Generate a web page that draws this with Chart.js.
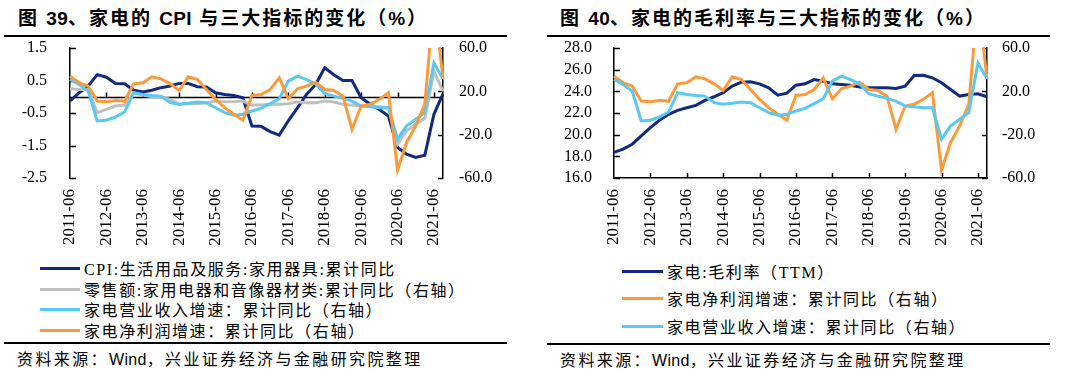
<!DOCTYPE html>
<html>
<head>
<meta charset="utf-8">
<script src="https://cdn.jsdelivr.net/npm/chart.js@4/dist/chart.umd.min.js"></script>
<style>
  body{margin:0;width:1068px;height:380px;background:#fff;position:relative;overflow:hidden;}
  canvas{position:absolute;top:0;}
  .title{position:absolute;top:6px;height:26px;line-height:26px;font-family:"Liberation Sans","Noto Sans CJK SC",sans-serif;font-weight:bold;font-size:19px;letter-spacing:2px;color:#000;white-space:nowrap;}
  .rule{position:absolute;height:2px;background:#000;}
  .row{position:absolute;height:20px;display:flex;align-items:center;white-space:nowrap;font-family:"Liberation Serif","Noto Sans CJK SC",serif;font-size:16px;letter-spacing:1.6px;color:#000;}
  .sw{display:inline-block;height:3px;margin-right:4px;}
  .src{position:absolute;height:20px;line-height:20px;font-family:"Liberation Sans","Noto Sans CJK SC",sans-serif;font-size:16px;letter-spacing:2.4px;color:#000;white-space:nowrap;}
  .lat{letter-spacing:0.3px;}
</style>
</head>
<body>
<div class="title" style="left:18px;">图 <span class="lat">39</span>、家电的 <span class="lat">CPI</span> 与三大指标的变化（%）</div>
<div class="rule" style="left:4px;width:503px;top:35px;"></div>
<div class="title" style="left:560px;">图 <span class="lat">40</span>、家电的毛利率与三大指标的变化（%）</div>
<div class="rule" style="left:547px;width:503px;top:35px;"></div>

<canvas id="c1" width="534" height="255" style="left:0;width:534px;height:255px;"></canvas>
<canvas id="c2" width="534" height="255" style="left:534px;width:534px;height:255px;"></canvas>

<div class="row" style="left:40px;top:258px;"><span class="sw" style="width:40px;background:#0f2a80"></span><span>CPI:生活用品及服务:家用器具:累计同比</span></div>
<div class="row" style="left:40px;top:279px;"><span class="sw" style="width:40px;background:#bfbfbf"></span><span>零售额:家用电器和音像器材类:累计同比（右轴）</span></div>
<div class="row" style="left:40px;top:299px;"><span class="sw" style="width:40px;background:#5bc8f2"></span><span>家电营业收入增速：累计同比（右轴）</span></div>
<div class="row" style="left:40px;top:320px;"><span class="sw" style="width:40px;background:#fb9a3a"></span><span>家电净利润增速：累计同比（右轴）</span></div>
<div class="rule" style="left:4px;width:503px;top:342px;"></div>
<div class="src" style="left:17px;top:350px;">资料来源：<span class="lat">Wind</span>，兴业证券经济与金融研究院整理</div>

<div class="row" style="left:622px;top:261px;"><span class="sw" style="width:41px;background:#0f2a80"></span><span>家电:毛利率（TTM）</span></div>
<div class="row" style="left:622px;top:288px;"><span class="sw" style="width:41px;background:#fb9a3a"></span><span>家电净利润增速：累计同比（右轴）</span></div>
<div class="row" style="left:622px;top:316px;"><span class="sw" style="width:41px;background:#5bc8f2"></span><span>家电营业收入增速：累计同比（右轴）</span></div>
<div class="rule" style="left:547px;width:503px;top:343px;"></div>
<div class="src" style="left:560px;top:351px;">资料来源：<span class="lat">Wind</span>，兴业证券经济与金融研究院整理</div>

<script>
// ---- data ----
const categories = [
  "2011-06","2011-09","2011-12","2012-03","2012-06","2012-09","2012-12","2013-03",
  "2013-06","2013-09","2013-12","2014-03","2014-06","2014-09","2014-12","2015-03",
  "2015-06","2015-09","2015-12","2016-03","2016-06","2016-09","2016-12","2017-03",
  "2017-06","2017-09","2017-12","2018-03","2018-06","2018-09","2018-12","2019-03",
  "2019-06","2019-09","2019-12","2020-03","2020-06","2020-09","2020-12","2021-03",
  "2021-06","2021-09"
];
const cpiAppliance = [-0.13,0.12,0.33,0.68,0.60,0.41,0.40,0.20,0.15,0.20,
  0.28,0.33,0.41,0.41,0.31,0.30,0.12,0.07,0.04,-0.03,
  -0.90,-0.91,-1.07,-1.18,-0.74,-0.34,0.07,0.38,0.89,0.68,
  0.50,0.50,-0.03,-0.23,-0.39,-0.59,-1.56,-1.77,-1.87,-1.80,
  -0.54,0.09];
const retailAppliance = [22.4,21.7,21.7,0.3,3.4,6.4,7.4,18.7,16.5,15.0,
  15.0,12.6,8.0,8.6,8.6,9.5,11.0,10.4,10.4,11.0,
  7.4,7.4,8.0,8.0,8.6,10.4,9.5,9.5,11.0,10.1,
  8.0,7.4,6.4,6.4,5.8,4.9,-28.8,-16.5,-10.4,-4.9,
  38.6,20.2];
const revenueGrowth = [30.9,26.3,20.2,-7.3,-6.7,-3.7,0.9,18.7,17.1,16.2,
  15.6,9.5,8.0,8.9,10.1,9.5,4.9,0.3,-2.1,-1.2,
  1.8,4.3,8.6,13.2,29.4,34.0,30.9,26.9,17.8,15.6,
  13.5,11.0,6.4,5.8,4.9,4.9,-24.2,-11.9,-5.8,0.3,
  46.2,31.5];
const profitGrowth = [34.0,27.9,24.8,11.0,10.4,11.6,11.0,26.9,27.9,33.4,
  31.5,26.9,20.8,33.4,30.9,21.7,12.6,4.9,-1.2,-6.7,
  16.2,17.1,21.7,32.5,13.2,22.4,24.8,28.5,21.7,20.8,
  15.6,-15.0,6.4,8.0,12.6,18.7,-52.6,-27.2,-11.9,8.0,
  105.0,32.0];
const grossMargin = [18.36,18.66,19.12,19.89,20.65,21.33,21.88,22.25,22.49,22.70,
  23.16,23.50,23.87,24.48,24.85,24.88,24.69,24.33,23.65,23.83,
  24.57,24.69,25.09,24.94,24.69,24.63,24.57,24.39,24.33,24.33,
  24.33,24.27,24.48,25.46,25.49,25.25,24.79,24.17,23.56,23.71,
  23.78,23.50];

const C_NAVY = "#0f2a80", C_GRAY = "#bfbfbf", C_SKY = "#5bc8f2", C_ORANGE = "#fb9a3a";
const AXIS_FONT = {family:"'Liberation Serif', 'Times New Roman', serif", size:16};
const XLABEL_FONT = {family:"'Liberation Serif', 'Times New Roman', serif", size:17};

function decor(zeroAxis){
  return {
    id:'decor',
    beforeDatasetsDraw(chart){
      const ctx = chart.ctx, a = chart.chartArea, xs = chart.scales.x;
      ctx.save();
      ctx.strokeStyle = '#000';
      ctx.lineWidth = 1.5;
      let baseY = a.bottom;
      if (zeroAxis){
        baseY = Math.round(chart.scales[zeroAxis].getPixelForValue(0)) + 0.5;
        ctx.beginPath(); ctx.moveTo(a.left, baseY); ctx.lineTo(a.right, baseY); ctx.stroke();
      }
      ctx.beginPath();
      for (let i = 4; i < categories.length; i += 4){
        const px = Math.round(xs.getPixelForValue(i)) + 0.5;
        ctx.moveTo(px, baseY); ctx.lineTo(px, baseY - 5);
      }
      ctx.stroke();
      ctx.beginPath();
      ['yL','yR'].forEach(id => {
        const s = chart.scales[id];
        const left = s.position === 'left';
        const x0 = left ? a.left : a.right;
        s.ticks.forEach(t => {
          const py = Math.round(s.getPixelForValue(t.value)) + 0.5;
          ctx.moveTo(x0, py); ctx.lineTo(x0 + (left ? 6 : -5), py);
        });
      });
      ctx.stroke();
      ctx.restore();
    }
  };
}

function ds(label, data, color, axis, order){
  return {label, data, borderColor:color, backgroundColor:color, borderWidth:3,
          pointRadius:0, tension:0, yAxisID:axis, order, fill:false};
}

function yScale(pos, min, max, step, width, pad){
  return {
    position:pos, min, max,
    ticks:{stepSize:step, autoSkip:false, color:'#000', font:AXIS_FONT, padding:pad,
           callback:v => Number(v).toFixed(1)},
    grid:{display:false, drawTicks:false},
    border:{display:true, color:'#000', width:1.5},
    afterFit(s){ s.width = width; }
  };
}

function xScale(showBorder){
  return {
    type:'category',
    offset:false,
    ticks:{autoSkip:false, maxRotation:90, minRotation:90, color:'#000', font:XLABEL_FONT, padding:11,
           callback:function(v, i){ return i % 4 === 0 ? categories[i] : ''; }},
    grid:{display:false, drawTicks:false},
    border:{display:showBorder, color:'#000', width:1.5},
    afterFit(s){ s.height = 255 - 178; }
  };
}

new Chart(document.getElementById('c1'), {
  type:'line',
  data:{labels:categories, datasets:[
    ds('CPI:生活用品及服务:家用器具:累计同比', cpiAppliance, C_NAVY, 'yL', 4),
    ds('零售额:家用电器和音像器材类:累计同比（右轴）', retailAppliance, C_GRAY, 'yR', 3),
    ds('家电营业收入增速：累计同比（右轴）', revenueGrowth, C_SKY, 'yR', 2),
    ds('家电净利润增速：累计同比（右轴）', profitGrowth, C_ORANGE, 'yR', 1)
  ]},
  options:{
    responsive:false, animation:false, devicePixelRatio:1,
    layout:{padding:{top:48, left:0, right:0, bottom:0}},
    plugins:{legend:{display:false}, tooltip:{enabled:false}},
    scales:{
      x:xScale(false),
      yL:yScale('left', -2.5, 1.5, 1, 70, 23),
      yR:yScale('right', -60, 60, 40, 534 - 443, 16)
    }
  },
  plugins:[decor('yL')]
});

new Chart(document.getElementById('c2'), {
  type:'line',
  data:{labels:categories, datasets:[
    ds('家电:毛利率（TTM）', grossMargin, C_NAVY, 'yL', 3),
    ds('家电净利润增速：累计同比（右轴）', profitGrowth, C_ORANGE, 'yR', 2),
    ds('家电营业收入增速：累计同比（右轴）', revenueGrowth, C_SKY, 'yR', 1)
  ]},
  options:{
    responsive:false, animation:false, devicePixelRatio:1,
    layout:{padding:{top:48, left:0, right:0, bottom:0}},
    plugins:{legend:{display:false}, tooltip:{enabled:false}},
    scales:{
      x:xScale(true),
      yL:yScale('left', 16, 28, 2, 614 - 534, 22),
      yR:yScale('right', -60, 60, 40, 1068 - 987, 15)
    }
  },
  plugins:[decor(null)]
});
</script>
</body>
</html>
